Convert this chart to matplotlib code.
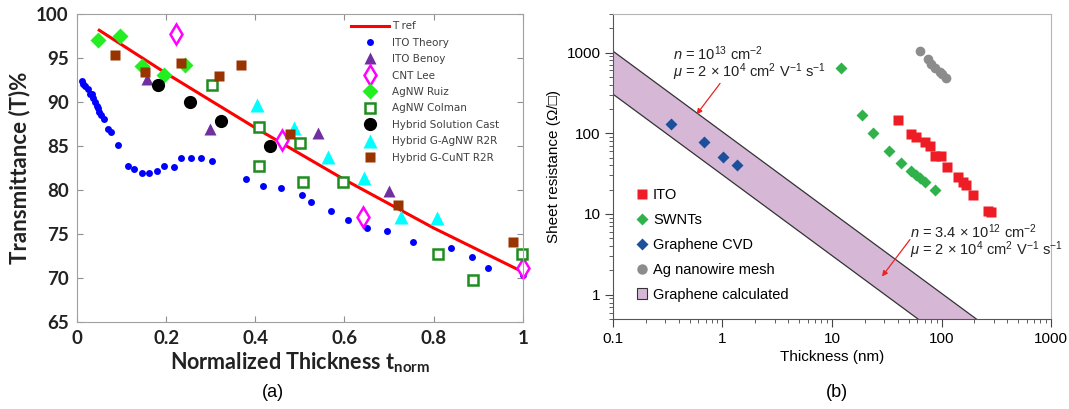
import matplotlib
matplotlib.use("Agg")
import matplotlib.pyplot as plt
from matplotlib.patches import Patch
from matplotlib.ticker import FixedLocator, LogLocator, NullFormatter

plt.rcParams["mathtext.fontset"] = "custom"
plt.rcParams["mathtext.rm"] = "Liberation Sans"
plt.rcParams["mathtext.it"] = "Liberation Sans:italic"
plt.rcParams["mathtext.bf"] = "Lato:bold"

# ---- panel (a): transmittance vs normalized thickness ----
tref_x = [0.05, 0.2, 0.4, 0.6, 0.8, 1.0]
tref_y = [98.2, 93.3, 87.1, 81.2, 75.7, 70.7]

ito_theory_x = [0.011, 0.014, 0.019, 0.024, 0.029, 0.034, 0.037, 0.041, 0.044, 0.047,
                0.050, 0.054, 0.061, 0.069, 0.076, 0.093, 0.115, 0.129, 0.147, 0.162,
                0.179, 0.196, 0.218, 0.234, 0.256, 0.279, 0.304, 0.380, 0.418, 0.457,
                0.504, 0.525, 0.569, 0.608, 0.651, 0.696, 0.754, 0.839, 0.886, 0.922, 1.0]
ito_theory_y = [92.4, 92.1, 91.8, 91.5, 91.0, 90.9, 90.5, 90.0, 89.6, 89.3,
                88.9, 88.5, 88.1, 87.0, 86.6, 85.1, 82.8, 82.4, 82.0, 82.0,
                82.2, 82.8, 82.6, 83.7, 83.7, 83.7, 83.3, 81.3, 80.5, 80.3,
                79.4, 78.7, 77.6, 76.6, 75.7, 75.3, 74.1, 73.4, 72.4, 71.1, 70.3]

benoy_x = [0.158, 0.299, 0.540, 0.700]
benoy_y = [92.6, 87.0, 86.5, 79.9]

cnt_x = [0.222, 0.459, 0.642, 1.0]
cnt_y = [97.8, 85.7, 77.0, 71.2]

ruiz_x = [0.048, 0.096, 0.146, 0.195, 0.243]
ruiz_y = [97.1, 97.6, 94.1, 93.1, 94.3]

colman_x = [0.303, 0.409, 0.409, 0.500, 0.506, 0.597, 0.811, 0.889, 0.998]
colman_y = [92.0, 87.2, 82.8, 85.4, 80.9, 80.9, 72.7, 69.8, 72.7]

cast_x = [0.181, 0.254, 0.324, 0.434]
cast_y = [92.0, 90.0, 87.9, 85.0]

agnw_r2r_x = [0.403, 0.487, 0.563, 0.645, 0.727, 0.807]
agnw_r2r_y = [89.7, 87.1, 83.8, 81.4, 77.0, 76.8]

cunt_r2r_x = [0.085, 0.153, 0.234, 0.319, 0.367, 0.479, 0.720, 0.978]
cunt_r2r_y = [95.4, 93.4, 94.5, 93.0, 94.2, 86.4, 78.3, 74.1]

# ---- panel (b): sheet resistance vs thickness ----
ito_t = [40, 53, 58, 70, 79, 88, 98, 113, 140, 156, 166, 192, 264, 282]
ito_r = [144, 97, 89, 77, 69, 53, 52, 38, 29, 25, 22.6, 17, 10.8, 10.5]

swnt_t = [12.1, 18.8, 23.8, 33.3, 43, 53, 59, 64, 71, 88]
swnt_r = [634, 166, 102, 61, 43, 34, 30, 27.6, 25, 20]

cvd_t = [0.34, 0.68, 1.02, 1.36]
cvd_r = [131, 77, 51, 41]

ag_t = [64, 76, 81, 88, 96, 102, 110]
ag_r = [1030, 820, 730, 650, 580, 535, 490]

band_t = [0.1, 1000]
band_hi = [1040, 0.104]
band_lo = [305, 0.0305]

fig = plt.figure(figsize=(10.69, 4.09), dpi=100)

# ================= (a) =================
ax = fig.add_axes([0.072, 0.2127, 0.417, 0.752])
ax.plot(tref_x, tref_y, "-", color="#ff0000", lw=2.2, label="T ref")
series = [
    (ito_theory_x, ito_theory_y, dict(marker="o", color="#0000ff", ms=5, mec="none"), "ITO Theory"),
    (benoy_x, benoy_y, dict(marker="^", color="#7030a0", ms=8, mec="none"), "ITO Benoy"),
    (cnt_x, cnt_y, dict(marker="d", mfc="white", mec="#ff00ff", mew=1.8, ms=10), "CNT Lee"),
    (ruiz_x, ruiz_y, dict(marker="D", color="#22ee22", ms=8, mec="none"), "AgNW Ruiz"),
    (colman_x, colman_y, dict(marker="s", mfc="white", mec="#1e8c1e", mew=1.8, ms=7.5), "AgNW Colman"),
    (cast_x, cast_y, dict(marker="o", color="black", ms=9.5, mec="none"), "Hybrid Solution Cast"),
    (agnw_r2r_x, agnw_r2r_y, dict(marker="^", color="#00ffff", ms=10, mec="none"), "Hybrid G-AgNW R2R"),
    (cunt_r2r_x, cunt_r2r_y, dict(marker="s", color="#993300", ms=7, mec="none"), "Hybrid G-CuNT R2R"),
]
for xs, ys, style, name in series:
    ax.plot(xs, ys, ls="none", clip_on=False, label=name, **style)

ax.set_xlim(0, 1)
ax.set_ylim(65, 100)
ax.set_xticks([0, 0.2, 0.4, 0.6, 0.8, 1.0], ["0", "0.2", "0.4", "0.6", "0.8", "1"])
ax.set_yticks(range(65, 101, 5))
ax.tick_params(direction="in", top=True, right=True, length=4, color="#909090",
               labelsize=13.5, pad=6)
for lab in ax.get_xticklabels() + ax.get_yticklabels():
    lab.set_fontfamily("Lato")
    lab.set_fontweight("bold")
    lab.set_color("#222222")
for sp in ax.spines.values():
    sp.set_color("#a0a0a0")
ax.set_ylabel("Transmittance (T)%", fontsize=16, fontweight="bold", family="Lato",
              color="#222222", labelpad=4)
ax.set_xlabel(r"Normalized Thickness t$_{\mathbf{norm}}$", fontsize=15.5, fontweight="bold",
              family="Lato", color="#222222", labelpad=2)
leg = ax.legend(loc="upper left", bbox_to_anchor=(0.614, 0.978), frameon=False,
                borderpad=0, borderaxespad=0, handlelength=3.7, handletextpad=0.25,
                labelspacing=0.62, prop={"family": "DejaVu Sans", "size": 7.5})
for t in leg.get_texts():
    t.set_color("#404040")
fig.text(0.2555, 0.04, "(a)", ha="center", va="center", fontsize=13, family="Liberation Sans")

# ================= (b) =================
bx = fig.add_axes([0.5734, 0.22, 0.4098, 0.7458])
bx.set_xscale("log")
bx.set_yscale("log")
bx.fill_between(band_t, band_lo, band_hi, facecolor="#d6b8d6", edgecolor="none", zorder=1)
bx.plot(band_t, band_hi, color="#333333", lw=0.9, zorder=2)
bx.plot(band_t, band_lo, color="#333333", lw=0.9, zorder=2)
bx.plot(ito_t, ito_r, "s", color="#ee1c24", ms=6.5, mec="none", zorder=3)
bx.plot(swnt_t, swnt_r, "D", color="#2fb24a", ms=6, mec="none", zorder=3)
bx.plot(cvd_t, cvd_r, "D", color="#1c4f9c", ms=6.5, mec="none", zorder=3)
bx.plot(ag_t, ag_r, "o", color="#8c8c8c", ms=7, mec="none", zorder=3)

bx.set_xlim(0.1, 1000)
bx.set_ylim(0.5, 3000)
bx.xaxis.set_major_locator(FixedLocator([0.1, 1, 10, 100, 1000]))
bx.set_xticklabels(["0.1", "1", "10", "100", "1000"])
bx.yaxis.set_major_locator(FixedLocator([1, 10, 100, 1000]))
bx.set_yticklabels(["1", "10", "100", "1000"])
for a in (bx.xaxis, bx.yaxis):
    a.set_minor_locator(LogLocator(base=10, subs=range(2, 10)))
    a.set_minor_formatter(NullFormatter())
bx.tick_params(which="major", direction="out", length=6, width=0.8, color="#444444",
               labelsize=11, pad=3)
bx.tick_params(which="minor", direction="out", length=3, width=0.6, color="#444444")
for lab in bx.get_xticklabels() + bx.get_yticklabels():
    lab.set_fontfamily("Liberation Sans")
bx.spines["left"].set_color("#555555")
bx.spines["bottom"].set_color("#555555")
bx.spines["top"].set_color("#b5b5b5")
bx.spines["right"].set_color("#b5b5b5")
bx.set_xlabel("Thickness (nm)", fontsize=11, family="Liberation Sans", labelpad=3)
bx.set_ylabel("Sheet resistance (\u03a9/\u25a1)", fontsize=11,
              family=["Liberation Sans", "DejaVu Sans"], labelpad=4)

handles = [
    plt.Line2D([], [], ls="none", marker="s", color="#ee1c24", ms=7, mec="none"),
    plt.Line2D([], [], ls="none", marker="D", color="#2fb24a", ms=6, mec="none"),
    plt.Line2D([], [], ls="none", marker="D", color="#1c4f9c", ms=6, mec="none"),
    plt.Line2D([], [], ls="none", marker="o", color="#8c8c8c", ms=7.5, mec="none"),
    Patch(facecolor="#d6b8d6", edgecolor="#333333", lw=0.8),
]
labels = ["ITO", "SWNTs", "Graphene CVD", "Ag nanowire mesh", "Graphene calculated"]
bx.legend(handles, labels, loc="upper left", bbox_to_anchor=(0.055, 0.43), frameon=False,
          borderpad=0, borderaxespad=0, handlelength=0.7, handleheight=0.7,
          handletextpad=0.4, labelspacing=0.75,
          prop={"family": "Liberation Sans", "size": 10.5})

ann_kw = dict(fontsize=10.5, family="Liberation Sans", color="#222222", va="center", ha="left")
bx.text(0.353, 980, r"$n$ = 10$^{13}$ cm$^{-2}$", **ann_kw)
bx.text(0.353, 572, r"$\mu$ = 2 $\times$ 10$^{4}$ cm$^{2}$ V$^{-1}$ s$^{-1}$", **ann_kw)
bx.annotate("", xy=(0.58, 171), xytext=(0.95, 414),
            arrowprops=dict(arrowstyle="-|>", color="#ee2222", lw=0.9,
                            mutation_scale=8, shrinkA=0, shrinkB=0))
bx.text(51.5, 6.04, r"$n$ = 3.4 $\times$ 10$^{12}$ cm$^{-2}$", **ann_kw)
bx.text(51.5, 3.52, r"$\mu$ = 2 $\times$ 10$^{4}$ cm$^{2}$ V$^{-1}$ s$^{-1}$", **ann_kw)
bx.annotate("", xy=(28.6, 1.68), xytext=(51.5, 4.82),
            arrowprops=dict(arrowstyle="-|>", color="#ee2222", lw=0.9,
                            mutation_scale=8, shrinkA=0, shrinkB=0))
fig.text(0.783, 0.04, "(b)", ha="center", va="center", fontsize=13, family="Liberation Sans")

fig.savefig("out.png", dpi=100)
